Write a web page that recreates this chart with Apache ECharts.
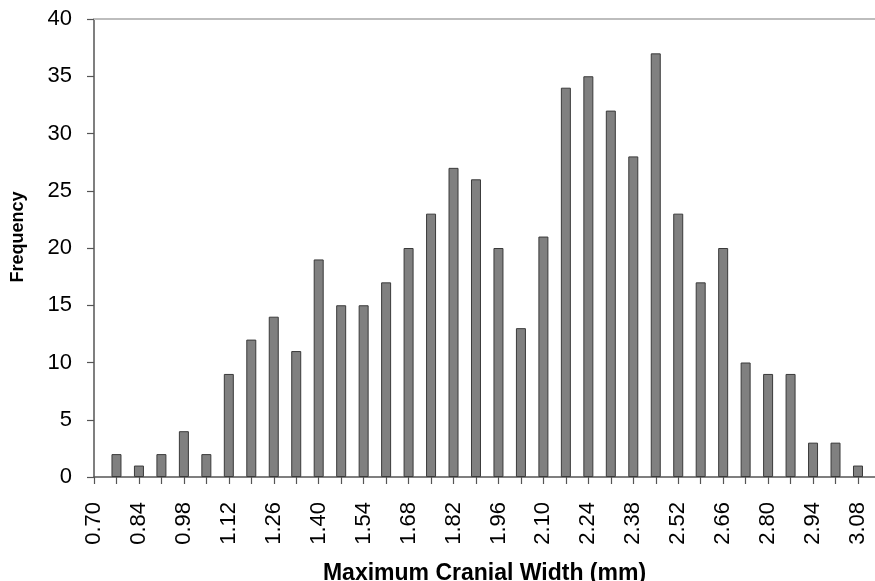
<!DOCTYPE html>
<html>
<head>
<meta charset="utf-8">
<script src="https://cdn.jsdelivr.net/npm/echarts@6/dist/echarts.min.js"></script>
<style>html,body{margin:0;padding:0;background:#fff;}#c{width:875px;height:581px;}</style>
</head>
<body>
<div id="c"></div>
<script>
// Bin centres (mm) and frequencies
const binCenters = [0.77,0.84,0.91,0.98,1.05,1.12,1.19,1.26,1.33,1.40,1.47,1.54,1.61,1.68,1.75,1.82,1.89,1.96,2.03,2.10,2.17,2.24,2.31,2.38,2.45,2.52,2.59,2.66,2.73,2.80,2.87,2.94,3.01,3.08];
const frequency  = [2,1,2,4,2,9,12,14,11,19,15,15,17,20,23,27,26,20,13,21,34,35,32,28,37,23,17,20,10,9,9,3,3,1];
const xTickLabels = ['0.70','0.84','0.98','1.12','1.26','1.40','1.54','1.68','1.82','1.96','2.10','2.24','2.38','2.52','2.66','2.80','2.94','3.08'];
const yTickLabels = ['0','5','10','15','20','25','30','35','40'];

const FONT = 'Liberation Sans, Arial, sans-serif';
const chart = echarts.init(document.getElementById('c'), null, {renderer:'canvas'});
const xMin = 0.70, xMax = 3.133;
const tickVals = [xMin].concat(binCenters);
chart.setOption({
  animation:false,
  backgroundColor:'#ffffff',
  grid:{left:94, top:19, right:0, bottom:104, containLabel:false, outerBoundsMode:'none'},
  xAxis:[{
    type:'value', min:xMin, max:xMax,
    name:'Maximum Cranial Width (mm)', nameLocation:'middle', nameGap:85,
    nameTextStyle:{fontFamily:FONT, fontSize:23, fontWeight:'bold', color:'#000'},
    axisLine:{show:true, lineStyle:{color:'#555', width:1.5}},
    axisTick:{show:true, length:7, lineStyle:{color:'#555', width:1.2}, customValues:tickVals},
    axisLabel:{show:true, rotate:90, margin:25, fontFamily:FONT, fontSize:22, color:'#000',
      customValues:xTickLabels.map(Number), formatter:v=>Number(v).toFixed(2)},
    splitLine:{show:false}
  },{
    type:'value', position:'top', min:xMin, max:xMax,
    axisLine:{show:true, lineStyle:{color:'#bdbdbd', width:2}},
    axisTick:{show:false}, axisLabel:{show:false}, splitLine:{show:false}
  }],
  yAxis:{
    type:'value', min:0, max:40, interval:5,
    name:'Frequency', nameLocation:'middle', nameGap:67, nameRotate:90,
    nameTextStyle:{fontFamily:FONT, fontSize:18, fontWeight:'bold', color:'#000', padding:[0,0,0,22]},
    axisLine:{show:true, lineStyle:{color:'#555', width:1.5}},
    axisTick:{show:true, length:7, lineStyle:{color:'#555', width:1.2}},
    axisLabel:{margin:22, fontFamily:FONT, fontSize:22, color:'#000',
      formatter:v=>yTickLabels[Math.round(v/5)]},
    splitLine:{show:false}
  },
  series:[{
    type:'bar', xAxisIndex:0,
    data: binCenters.map((x,i)=>[x, frequency[i]]),
    barWidth:10,
    itemStyle:{color:'#808080', borderColor:'#3a3a3a', borderWidth:1}
  }]
});
</script>
</body>
</html>
